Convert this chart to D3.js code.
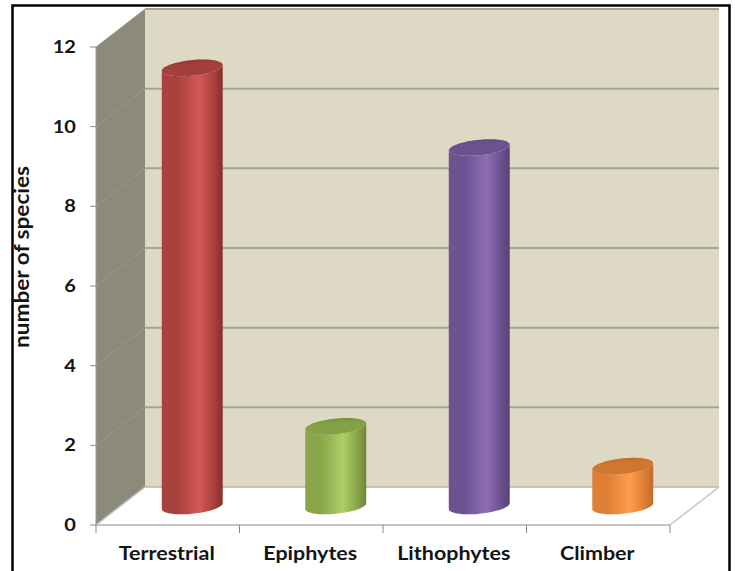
<!DOCTYPE html>
<html>
<head>
<meta charset="utf-8">
<script src="https://cdn.jsdelivr.net/npm/d3@7"></script>
<style>
  html, body { margin: 0; padding: 0; background: #fff; }
  svg { display: block; }
  text { font-family: Lato, "Open Sans", sans-serif; font-weight: bold; fill: #141414; }
</style>
</head>
<body>
<svg id="chart" width="735" height="571"></svg>
<script>
// Growth forms and the number of species in each
const categories = ["Terrestrial", "Epiphytes", "Lithophytes", "Climber"];
const speciesCount = [11, 2, 9, 1];
const yTicks = [0, 2, 4, 6, 8, 10, 12];
const yTitle = "number of species";

// Cylinder colours: shaded edge, highlight, far edge, cap
const palette = [
  { left: "#a9413e", mid: "#d35956", right: "#87302d", cap: "#a3403d", capEdge: "#8a3431" },
  { left: "#89a64a", mid: "#afcd66", right: "#6d8837", cap: "#84a147", capEdge: "#6f893a" },
  { left: "#6c528f", mid: "#8f6db6", right: "#574273", cap: "#6d5290", capEdge: "#5c467a" },
  { left: "#de7f36", mid: "#fd9e4e", right: "#c2692a", cap: "#d0772f", capEdge: "#b8692a" }
];

const svg = d3.select("#chart");

// Plot box: front face, plus the oblique depth offset of the 3D walls
const front = { left: 96, right: 670, top: 47, bottom: 525 };
const depth = { dx: 49, dy: -38 };
const textStretch = 1.13;

const x = d3.scaleBand().domain(categories).range([front.left, front.right]).padding(0);
const y = d3.scaleLinear().domain([0, 12]).range([front.bottom, front.top]);

// outer frame
svg.append("rect")
  .attr("x", 12.5).attr("y", 5.5)
  .attr("width", 717).attr("height", 580)
  .attr("fill", "none").attr("stroke", "#000").attr("stroke-width", 2.5);

const y0 = y(0), yTop = y(12);
const pts = arr => arr.map(p => p.join(",")).join(" ");

// back wall
svg.append("polygon")
  .attr("points", pts([
    [front.left + depth.dx, yTop + depth.dy],
    [front.right + depth.dx, yTop + depth.dy],
    [front.right + depth.dx, y0 + depth.dy],
    [front.left + depth.dx, y0 + depth.dy]
  ]))
  .attr("fill", "#ddd9c4");

// side wall
svg.append("polygon")
  .attr("points", pts([
    [front.left, yTop],
    [front.left + depth.dx, yTop + depth.dy],
    [front.left + depth.dx, y0 + depth.dy],
    [front.left, y0]
  ]))
  .attr("fill", "#8c8a7b");

// floor
svg.append("polygon")
  .attr("points", pts([
    [front.left, y0],
    [front.left + depth.dx, y0 + depth.dy],
    [front.right + depth.dx, y0 + depth.dy],
    [front.right, y0]
  ]))
  .attr("fill", "#ffffff");

// grid lines on the back wall and across the side wall
const gridVals = yTicks.filter(v => v > 0);
svg.append("g").selectAll("line").data(gridVals).join("line")
  .attr("x1", front.left).attr("y1", d => y(d))
  .attr("x2", front.left + depth.dx).attr("y2", d => y(d) + depth.dy)
  .attr("stroke", "#9b9d9e").attr("stroke-width", 1).attr("opacity", 0.8);
svg.append("g").selectAll("line").data(gridVals).join("line")
  .attr("x1", front.left + depth.dx).attr("y1", d => y(d) + depth.dy)
  .attr("x2", front.right + depth.dx).attr("y2", d => y(d) + depth.dy)
  .attr("stroke", "#a4a497").attr("stroke-width", 2);

// floor edges
const edge = "#c4c4c4";
svg.append("line")
  .attr("x1", front.left + depth.dx).attr("y1", y0 + depth.dy)
  .attr("x2", front.right + depth.dx).attr("y2", y0 + depth.dy)
  .attr("stroke", "#b5b5aa").attr("stroke-width", 1.5);
svg.append("line")
  .attr("x1", front.right).attr("y1", y0)
  .attr("x2", front.right + depth.dx).attr("y2", y0 + depth.dy)
  .attr("stroke", edge).attr("stroke-width", 1.5);
svg.append("line")
  .attr("x1", front.left).attr("y1", y0)
  .attr("x2", front.left + depth.dx).attr("y2", y0 + depth.dy)
  .attr("stroke", edge).attr("stroke-width", 1.5);

// cylinders: an oblique-projected circle swept up from the floor
const defs = svg.append("defs");
const R = 28.5, Rz = 0.22;
const a = depth.dx * Rz, b = -depth.dy * Rz;
const t0 = Math.atan2(a, R);
const pt = (cx, cy, t) => [cx + R * Math.cos(t) + a * Math.sin(t), cy - b * Math.sin(t)];
const arc = (cx, cy, tStart, tEnd, n = 48) =>
  d3.range(n + 1).map(i => pt(cx, cy, tStart + (tEnd - tStart) * i / n));

categories.forEach((c, i) => {
  const col = palette[i];
  const g = defs.append("linearGradient").attr("id", "body" + i)
    .attr("x1", 0).attr("x2", 1).attr("y1", 0).attr("y2", 0);
  g.append("stop").attr("offset", "0%").attr("stop-color", col.left);
  g.append("stop").attr("offset", "25%").attr("stop-color", col.left);
  g.append("stop").attr("offset", "62%").attr("stop-color", col.mid);
  g.append("stop").attr("offset", "85%").attr("stop-color", col.left);
  g.append("stop").attr("offset", "100%").attr("stop-color", col.right);
  const cg = defs.append("linearGradient").attr("id", "cap" + i)
    .attr("x1", 0).attr("x2", 0.3).attr("y1", 0).attr("y2", 1);
  cg.append("stop").attr("offset", "0%").attr("stop-color", col.capEdge);
  cg.append("stop").attr("offset", "45%").attr("stop-color", col.cap);
  cg.append("stop").attr("offset", "100%").attr("stop-color", col.cap);
});

const line = d3.line();
svg.append("g").selectAll("g").data(categories).join("g").each(function (c, i) {
  const gsel = d3.select(this);
  const cx = x(c) + x.bandwidth() / 2 + depth.dx / 2;
  const cyBase = y(0) + depth.dy / 2;
  const cyTop = y(speciesCount[i]) + depth.dy / 2;
  const body = [
    pt(cx, cyTop, t0),
    ...arc(cx, cyBase, t0, t0 - Math.PI),
    ...arc(cx, cyTop, t0 - Math.PI, t0)
  ];
  gsel.append("path").attr("d", line(body) + "Z").attr("fill", `url(#body${i})`);
  gsel.append("path").attr("d", line(arc(cx, cyTop, 0, 2 * Math.PI, 72)) + "Z")
    .attr("fill", `url(#cap${i})`);
});

// y axis: front edge, ticks and labels
svg.append("line")
  .attr("x1", front.left).attr("y1", yTop).attr("x2", front.left).attr("y2", y0)
  .attr("stroke", "#9a9a9a").attr("stroke-width", 1);
svg.append("g").selectAll("line").data(yTicks).join("line")
  .attr("x1", front.left - 6).attr("x2", front.left)
  .attr("y1", d => y(d)).attr("y2", d => y(d))
  .attr("stroke", "#8a8a8a").attr("stroke-width", 1);
svg.append("g").selectAll("text").data(yTicks).join("text")
  .attr("transform", d => `translate(76,${y(d)}) scale(${textStretch + 0.05},1)`)
  .attr("dy", "0.36em")
  .attr("text-anchor", "end")
  .attr("font-size", 17)
  .text(d => d);

// x axis: front floor edge, category ticks and labels
svg.append("line")
  .attr("x1", front.left).attr("y1", y0).attr("x2", front.right).attr("y2", y0)
  .attr("stroke", "#b0b0b0").attr("stroke-width", 1.5);
const xTickPos = categories.map(c => x(c)).concat([front.right]);
svg.append("g").selectAll("line").data(xTickPos).join("line")
  .attr("x1", d => d).attr("x2", d => d)
  .attr("y1", y0).attr("y2", y0 + 8)
  .attr("stroke", "#8a8a8a").attr("stroke-width", 1);
svg.append("g").selectAll("text").data(categories).join("text")
  .attr("transform", d => `translate(${x(d) + x.bandwidth() / 2 - 1},560) scale(${textStretch},1)`)
  .attr("text-anchor", "middle")
  .attr("font-size", 19)
  .text(d => d);

// y axis title
svg.append("text")
  .attr("transform", `translate(29,257) rotate(-90) scale(${textStretch},1)`)
  .attr("text-anchor", "middle")
  .attr("font-size", 20)
  .text(yTitle);
</script>
</body>
</html>
